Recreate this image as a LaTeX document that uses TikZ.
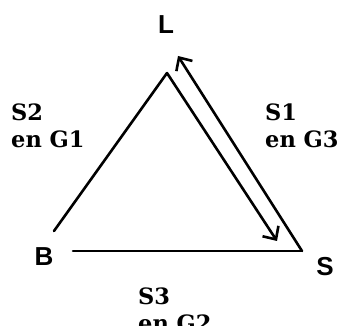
\documentclass[tikz,border=0pt]{standalone}
\usepackage{fontspec}
\newfontfamily\labelfont{DejaVu Serif}[BoldFont={DejaVu Serif Bold}]
\newfontfamily\vertexfont{Liberation Sans}
\usetikzlibrary{arrows.meta,positioning}

\begin{document}
\begin{tikzpicture}[
  x=1pt, y=-1pt,
  vertex/.style={font=\vertexfont\bfseries\fontsize{26}{26}\selectfont, inner sep=0pt},
  route/.style={font=\labelfont\bfseries\fontsize{22.5}{27}\selectfont, align=left, inner sep=0pt, anchor=north west},
  edge/.style={line width=2.6pt, line cap=round, line join=miter},
  arrow/.style={edge, -{Straight Barb[length=10pt, width=19pt, line width=2.6pt]}}
]
\useasboundingbox (0,0) rectangle (341,326);
% corners of the triangle
\coordinate (apex) at (167,73);
\coordinate (left) at (54,231);
\coordinate (base) at (73,251);
\coordinate (corner) at (302,251);
\coordinate (tipdown) at (277,241);
\coordinate (tipup) at (178,56);
% vertex names
\node[vertex] (L) at (166,25) {L};
\node[vertex] (B) at (44,257) {B};
\node[vertex] (S) at (325,267) {S};
% route labels
\node[route] (s2) at (11,104) {S2\\en G1};
\node[route] (s1) at (265,104) {S1\\en G3};
\node[route] (s3) at (138,288) {S3\\en G2};
\draw[edge] (left) -- (apex);
\draw[edge] (base) -- (corner);
\draw[arrow] (apex) -- (tipdown);
\draw[arrow] (corner) -- (tipup);
\end{tikzpicture}
\end{document}
